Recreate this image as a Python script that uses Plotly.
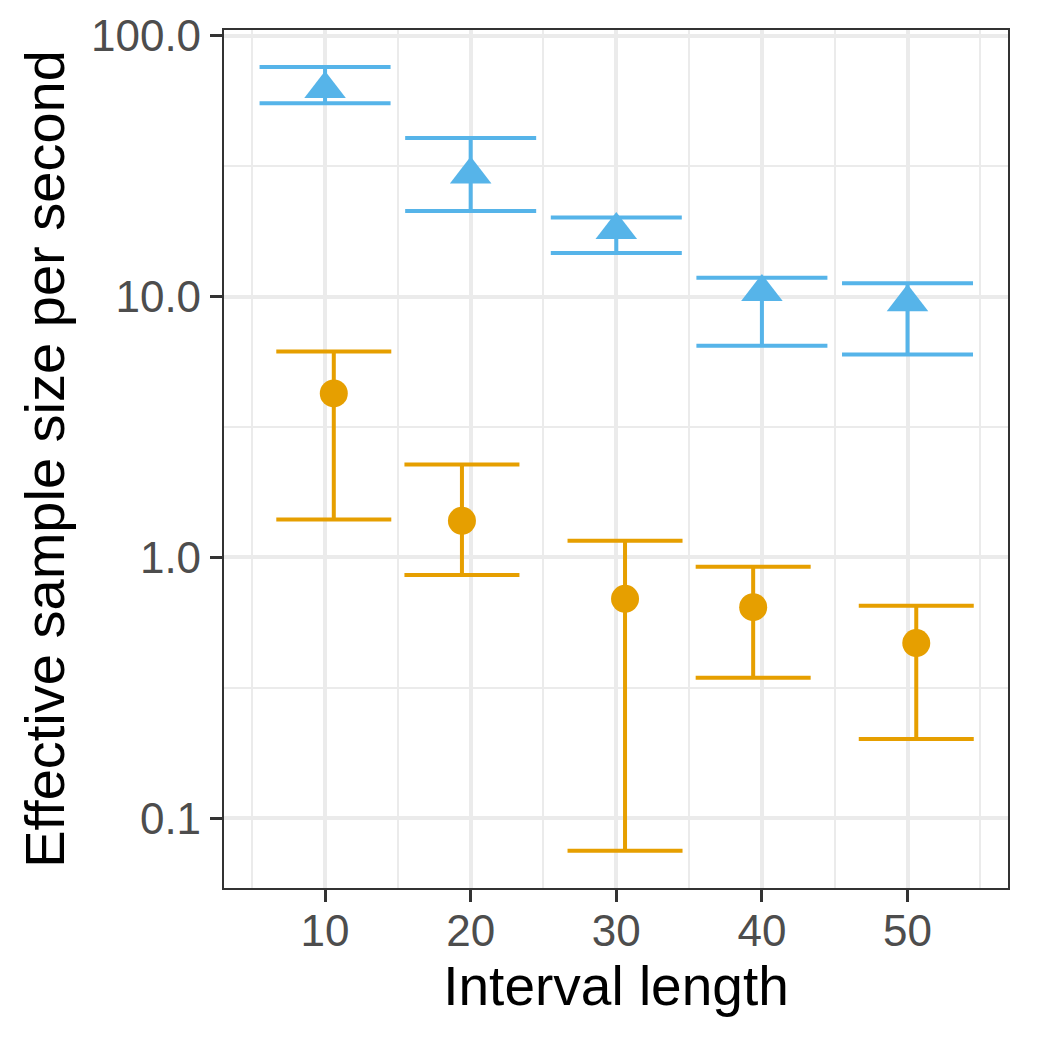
import numpy as np
import plotly.graph_objects as go

# interval lengths (x axis)
interval = [10, 20, 30, 40, 50]

# blue series (triangles): ESS/s with interval bounds
blue_x = [10, 20, 30, 40, 50]
blue_ess = [62.5, 29.4, 18.0, 10.4, 9.5]
blue_lo = [55.1, 21.3, 14.7, 6.47, 6.0]
blue_hi = [75.9, 40.5, 20.1, 11.8, 11.25]

# orange series (circles), slightly jittered along x
orange_x = [10.6, 19.4, 30.6, 39.4, 50.6]
orange_ess = [4.25, 1.38, 0.693, 0.644, 0.469]
orange_lo = [1.395, 0.856, 0.075, 0.345, 0.201]
orange_hi = [6.15, 2.27, 1.157, 0.920, 0.652]

y_ticks = [0.1, 1, 10, 100]
y_ticktext = ["0.1", "1.0", "10.0", "100.0"]

BLUE = "#56B4E9"
ORANGE = "#E69F00"
FONT = "Liberation Sans, Arial, sans-serif"


def err(vals, lo, hi):
    v = np.array(vals)
    return np.array(hi) - v, v - np.array(lo)


fig = go.Figure()

up, down = err(blue_ess, blue_lo, blue_hi)
fig.add_trace(go.Scatter(
    x=blue_x, y=blue_ess, mode="markers", name="blue",
    marker=dict(symbol="triangle-up", size=36, color=BLUE),
    error_y=dict(type="data", symmetric=False, array=up, arrayminus=down,
                 color=BLUE, thickness=4, width=65.5),
))

up, down = err(orange_ess, orange_lo, orange_hi)
fig.add_trace(go.Scatter(
    x=orange_x, y=orange_ess, mode="markers", name="orange",
    marker=dict(symbol="circle", size=28, color=ORANGE),
    error_y=dict(type="data", symmetric=False, array=up, arrayminus=down,
                 color=ORANGE, thickness=4, width=57.5),
))

axis_common = dict(
    showline=True, mirror=True, linecolor="#333333", linewidth=2.2,
    ticks="outside", ticklen=12, tickwidth=3, tickcolor="#333333",
    showgrid=True, gridcolor="#EBEBEB", gridwidth=3.8,
    zeroline=False, automargin=False,
    tickfont=dict(family=FONT, size=44, color="#4D4D4D"),
)

fig.update_xaxes(
    **axis_common,
    range=[3.06, 56.9],
    tickvals=interval,
    ticktext=[str(v) for v in interval],
    ticklabelstandoff=-9,
    minor=dict(tickvals=[5, 15, 25, 35, 45, 55], showgrid=True,
               gridcolor="#EBEBEB", gridwidth=2, ticks=""),
    title=dict(text="Interval length", font=dict(family=FONT, size=55, color="black"),
               standoff=8),
)

fig.update_yaxes(
    **axis_common,
    type="log",
    range=[-1.268, 2.022],
    tickvals=y_ticks,
    ticktext=y_ticktext,
    minor=dict(tickvals=[0.1 * 10 ** 0.5, 10 ** 0.5, 10 * 10 ** 0.5], showgrid=True,
               gridcolor="#EBEBEB", gridwidth=2, ticks=""),
    title=dict(text="Effective sample size per second",
               font=dict(family=FONT, size=56, color="black"), standoff=8),
)

# page adds an 8px body margin, so the figure is drawn 8px smaller
fig.update_layout(
    width=1030, height=1030,
    margin=dict(l=216, r=30, t=22, b=150),
    plot_bgcolor="white", paper_bgcolor="white",
    showlegend=False,
)

fig.write_html("out.html")
